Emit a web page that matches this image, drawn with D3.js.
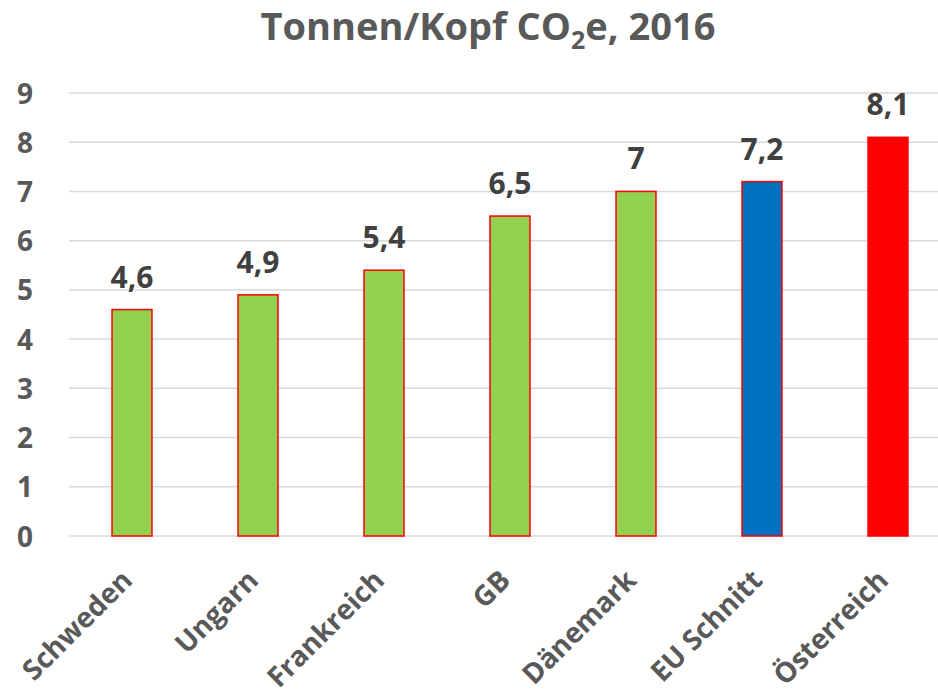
<!DOCTYPE html>
<html>
<head>
<meta charset="utf-8">
<script src="https://cdn.jsdelivr.net/npm/d3@7"></script>
<style>
  body { margin: 0; background: #fff; }
  text { font-family: "Open Sans", sans-serif; font-weight: bold; }
</style>
</head>
<body>
<script>
var laender = ["Schweden", "Ungarn", "Frankreich", "GB", "Dänemark", "EU Schnitt", "Österreich"];
var werte = [4.6, 4.9, 5.4, 6.5, 7, 7.2, 8.1];
var labels = ["4,6", "4,9", "5,4", "6,5", "7", "7,2", "8,1"];
var farben = ["#92D050", "#92D050", "#92D050", "#92D050", "#92D050", "#0070C0", "#FF0000"];
var yTicks = [0, 1, 2, 3, 4, 5, 6, 7, 8, 9];

var width = 938, height = 697;

var svg = d3.select("body")
            .append("svg")
            .attr("width", width)
            .attr("height", height);

var x = d3.scaleBand()
          .domain(laender)
          .range([69, 951])
          .paddingInner(0.683)
          .paddingOuter(0.3415);

var y = d3.scaleLinear()
          .domain([0, 9])
          .range([536, 93]);

// gridlines
svg.append("g")
   .selectAll("line")
   .data(yTicks)
   .enter().append("line")
   .attr("x1", 69)
   .attr("x2", 951)
   .attr("y1", function(d) { return y(d); })
   .attr("y2", function(d) { return y(d); })
   .attr("stroke", "#d9d9d9")
   .attr("stroke-width", 1.5);

// y axis labels
var yAxis = svg.append("g")
   .attr("transform", "translate(40,0)")
   .call(d3.axisLeft(y).tickValues(yTicks).tickSize(0).tickPadding(0));
yAxis.select(".domain").remove();
yAxis.selectAll("text")
     .attr("font-family", "Open Sans")
     .attr("font-weight", "bold")
     .attr("font-size", 28)
     .attr("fill", "#595959")
     .attr("text-anchor", "middle")
     .attr("x", -15)
     .attr("dy", "0.36em");

// bars
svg.selectAll(".bar")
   .data(werte)
   .enter().append("rect")
   .attr("class", "bar")
   .attr("x", function(d, i) { return x(laender[i]); })
   .attr("width", x.bandwidth())
   .attr("y", function(d) { return y(d); })
   .attr("height", function(d) { return y(0) - y(d); })
   .attr("fill", function(d, i) { return farben[i]; })
   .attr("stroke", "#FF0000")
   .attr("stroke-width", 1.5);

// value labels
svg.selectAll(".wert")
   .data(werte)
   .enter().append("text")
   .attr("class", "wert")
   .attr("x", function(d, i) { return x(laender[i]) + x.bandwidth() / 2; })
   .attr("y", function(d) { return y(d) - 22; })
   .attr("text-anchor", "middle")
   .attr("font-size", 30)
   .attr("fill", "#404040")
   .text(function(d, i) { return labels[i]; });

// x labels
svg.selectAll(".land")
   .data(laender)
   .enter().append("text")
   .attr("class", "land")
   .attr("transform", function(d) {
       return "translate(" + (x(d) + x.bandwidth() / 2 + 2) + ",582) rotate(-45)";
   })
   .attr("text-anchor", "end")
   .attr("font-size", 28)
   .attr("fill", "#595959")
   .text(function(d) { return d; });

// title
var title = svg.append("text")
   .attr("x", 488)
   .attr("y", 40)
   .attr("text-anchor", "middle")
   .attr("font-size", 38)
   .attr("fill", "#595959");
title.append("tspan").text("Tonnen/Kopf CO");
title.append("tspan").attr("font-size", 25).attr("dy", 9).text("2");
title.append("tspan").attr("dy", -9).text("e, 2016");
</script>
</body>
</html>
